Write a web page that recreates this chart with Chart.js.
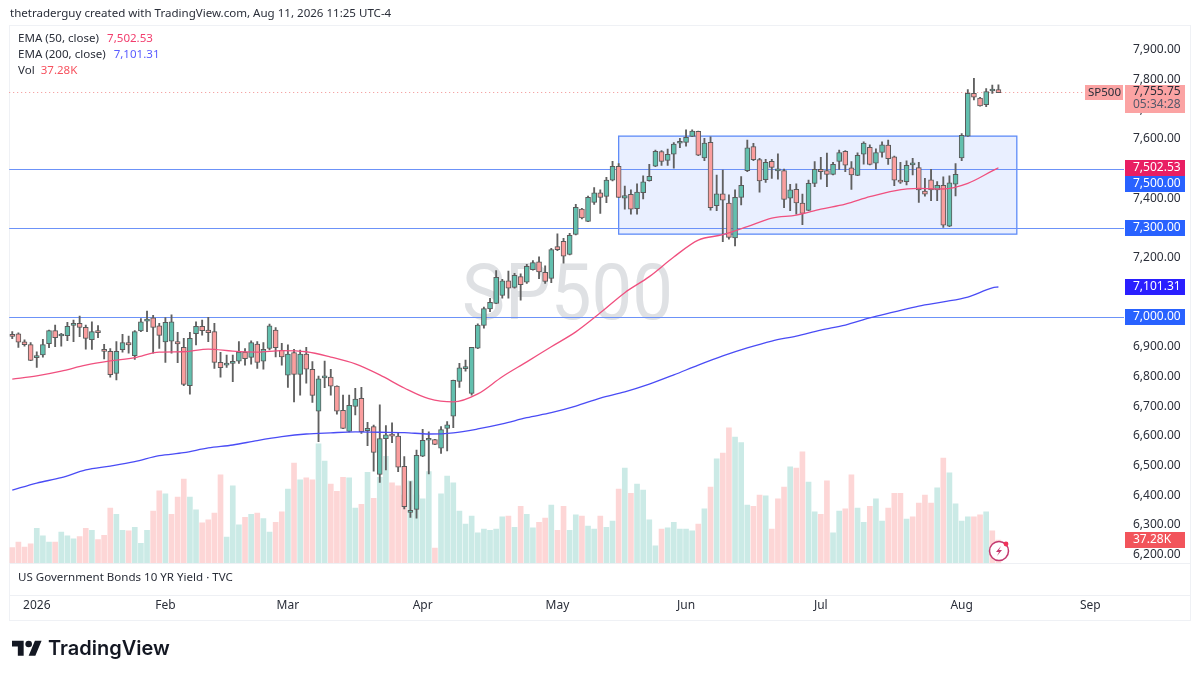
<!DOCTYPE html>
<html lang="en">
<head>
  <meta charset="UTF-8" />
  <title>SP500 | TradingView</title>
  <script src="https://cdn.jsdelivr.net/npm/chart.js@4"></script>
  <style>
    html, body { margin: 0; padding: 0; background: #fff; }
    body { width: 1200px; height: 675px; position: relative; overflow: hidden; font-family: "Noto Sans", sans-serif; color: #2a2e39; }
    #chart { position: absolute; left: 0; top: 0; z-index: 2; }
    .txt { position: absolute; white-space: nowrap; font-size: 11.55px; line-height: 16px; z-index: 3; }
    #frame { position: absolute; left: 9px; top: 25px; width: 1180px; height: 594px; border: 1px solid #eff1f5; z-index: 1; }
    .sep { position: absolute; left: 10px; width: 1180px; height: 1px; background: #eef0f4; z-index: 1; }
    #mark { position: absolute; left: 462px; top: 243px; font-family: Roboto, sans-serif; font-size: 78px; line-height: 100px; color: #dfe1e4; transform: scaleX(.93); transform-origin: left top; z-index: 1; }
    #brand { position: absolute; left: 48px; top: 634px; font-family: Inter, sans-serif; font-weight: 600; font-size: 20px; line-height: 28px; color: #131722; z-index: 3; }
    #logo { position: absolute; left: 12px; top: 637px; z-index: 3; }
    #bolt { position: absolute; left: 986px; top: 538px; z-index: 3; }
  </style>
</head>
<body>
  <div id="frame"></div>
  <div class="sep" style="top:563px"></div>
  <div class="sep" style="top:595px"></div>
  <div id="mark">SP500</div>
  <canvas id="chart" width="1200" height="675"></canvas>

  <div class="txt" style="left:10px;top:5px">thetraderguy created with TradingView.com, Aug 11, 2026 11:25 UTC-4</div>
  <div class="txt" style="left:18px;top:30px">EMA (50, close) &nbsp;<span style="color:#f23d6d;margin-left:2px">7,502.53</span></div>
  <div class="txt" style="left:18px;top:46px">EMA (200, close) &nbsp;<span style="color:#5a5cff;margin-left:2px">7,101.31</span></div>
  <div class="txt" style="left:18px;top:62px">Vol &nbsp;<span style="color:#f7525f">37.28K</span></div>
  <div class="txt" style="left:18px;top:569px">US Government Bonds 10 YR Yield · TVC</div>

  <svg id="bolt" width="26" height="26" viewBox="0 0 26 26">
    <circle cx="13" cy="13" r="9.5" fill="#fff" stroke="#c4396f" stroke-width="1.5"/>
    <path d="M15 8l-5 6h3l-2 4 5-6h-3z" fill="#c4396f"/>
    <circle cx="20" cy="6" r="2.4" fill="#f0325a"/>
  </svg>
  <svg id="logo" width="30" height="24" viewBox="0 0 36 28">
    <path d="M14 22H7V11H0V4h14v18ZM28 22h-8l7.5-18h8L28 22Z" fill="#131722"/>
    <circle cx="20" cy="8" r="4" fill="#131722"/>
  </svg>
  <div id="brand">TradingView</div>

  <script>
    const slotCount = 182;
    const monthNames = ["2026", "Feb", "Mar", "Apr", "May", "Jun", "Jul", "Aug", "Sep"];
    const monthBars = [4, 25, 45, 67, 89, 110, 132, 155, 176];
    const priceTicks = [7900, 7800, 7700, 7600, 7500, 7400, 7300, 7200, 7100, 7000, 6900, 6800, 6700, 6600, 6500, 6400, 6300, 6200];

    const opens = [
      6942,6943,6916,6907,6863,6872,6910,6954,6936,6937,
      6972,6979,6965,6924,6954,6891,6884,6810,6890,6914,
      6870,6953,6986,6997,6970,6916,6919,6917,6898,6769,
      6944,6969,6956,6951,6847,6838,6844,6851,6882,6864,
      6909,6851,6894,6956,6888,6804,6880,6807,6875,6824,
      6683,6795,6798,6767,6686,6615,6699,6726,6617,6631,
      6470,6590,6605,6599,6497,6342,6352,6531,6585,6587,
      6558,6625,6666,6783,6826,6743,6895,6972,7027,7046,
      7073,7122,7100,7136,7117,7159,7186,7150,7130,7237,
      7255,7211,7278,7363,7322,7386,7418,7406,7461,7507,
      7400,7413,7365,7419,7459,7508,7557,7527,7548,7585,
      7588,7608,7625,7536,7588,7375,7415,7384,7266,7403,
      7493,7574,7530,7462,7524,7492,7493,7400,7430,7384,
      7359,7450,7497,7493,7480,7524,7558,7502,7477,7548,
      7571,7518,7554,7579,7539,7457,7456,7512,7503,7424,
      7462,7428,7443,7306,7447,7536,7609,7753,7737,7715,
      7761,7766
    ];
    const highs = [
      6951,6947,6923,6914,6883,6925,6956,6973,6945,6982,
      6990,7003,6973,6984,6971,6908,6894,6917,6942,6936,
      6954,6995,7020,7006,6979,6998,7007,6948,6928,6948,
      6984,6990,6999,6979,6881,6872,6872,6917,6894,6920,
      6917,6914,6976,6964,6911,6906,6891,6889,6898,6850,
      6801,6852,6824,6768,6737,6737,6760,6763,6645,6636,
      6704,6634,6644,6608,6530,6446,6552,6622,6613,6588,
      6631,6648,6788,6844,6855,6898,6977,7033,7063,7156,
      7127,7155,7147,7145,7177,7190,7203,7172,7231,7280,
      7265,7282,7379,7366,7407,7436,7428,7470,7524,7517,
      7441,7428,7448,7475,7514,7562,7560,7565,7587,7602,
      7630,7630,7626,7602,7607,7478,7495,7411,7428,7473,
      7596,7585,7534,7531,7531,7549,7498,7447,7448,7414,
      7461,7523,7538,7552,7521,7562,7560,7523,7553,7590,
      7580,7566,7590,7596,7542,7521,7526,7534,7521,7467,
      7497,7456,7472,7475,7517,7618,7766,7804,7740,7769,
      7781,7782
    ];
    const lows = [
      6927,6898,6902,6853,6830,6865,6897,6900,6902,6920,
      6917,6934,6892,6891,6930,6859,6797,6788,6882,6878,
      6857,6951,6951,6878,6894,6847,6878,6846,6769,6740,
      6906,6939,6917,6827,6797,6830,6782,6844,6838,6841,
      6827,6824,6889,6866,6838,6763,6714,6737,6777,6712,
      6580,6762,6737,6673,6624,6613,6670,6608,6567,6481,
      6443,6485,6577,6479,6354,6325,6323,6530,6472,6570,
      6541,6549,6627,6763,6818,6737,6893,6962,7018,7045,
      7063,7063,7097,7057,7113,7158,7129,7113,7116,7223,
      7181,7209,7276,7330,7321,7379,7349,7385,7458,7402,
      7363,7346,7346,7398,7457,7506,7510,7510,7501,7570,
      7575,7607,7543,7526,7360,7358,7254,7262,7239,7377,
      7489,7526,7420,7453,7467,7464,7368,7358,7346,7311,
      7358,7439,7464,7439,7478,7497,7489,7430,7476,7515,
      7512,7498,7538,7514,7442,7450,7445,7478,7386,7407,
      7392,7392,7302,7304,7408,7526,7608,7731,7710,7708,
      7753,7755
    ];
    const closes = [
      6935,6915,6907,6854,6865,6907,6954,6930,6938,6969,
      6979,6965,6928,6951,6947,6884,6806,6884,6914,6906,
      6951,6984,6993,6965,6938,6982,6984,6909,6773,6928,
      6969,6954,6947,6847,6829,6840,6851,6882,6860,6914,
      6847,6891,6970,6897,6866,6875,6807,6875,6824,6736,
      6792,6797,6767,6683,6625,6703,6724,6614,6625,6544,
      6591,6603,6599,6494,6361,6349,6534,6585,6590,6571,
      6621,6637,6787,6829,6832,6898,6973,7028,7049,7134,
      7122,7097,7140,7109,7171,7183,7152,7120,7227,7227,
      7205,7275,7369,7334,7403,7418,7403,7461,7507,7403,
      7409,7363,7421,7455,7474,7558,7524,7548,7582,7587,
      7605,7626,7545,7586,7368,7415,7393,7268,7403,7443,
      7570,7530,7458,7521,7504,7494,7396,7428,7384,7349,
      7450,7497,7489,7480,7514,7554,7511,7478,7544,7586,
      7514,7554,7580,7533,7461,7454,7511,7514,7428,7414,
      7428,7443,7309,7452,7480,7612,7753,7740,7711,7759,
      7763,7755.75
    ];
    // thousands
    const volumes = [
      25,34,26,31,56,44,34,34,50,44,
      39,43,56,53,38,45,89,79,53,52,
      58,32,53,84,117,112,79,107,136,107,
      86,65,70,81,143,42,125,62,74,79,
      81,72,50,66,83,120,162,135,138,135,
      193,165,128,116,139,138,89,95,147,105,
      139,173,130,125,110,133,110,104,148,24,
      112,141,130,84,63,76,49,55,53,55,
      75,76,58,92,79,57,66,73,94,53,
      92,53,78,76,60,55,76,58,68,120,
      154,113,128,118,70,28,55,57,66,55,
      55,52,63,88,123,169,178,219,204,195,
      94,92,110,109,55,104,123,156,154,180,
      131,83,79,133,49,84,88,143,89,66,
      92,104,68,89,113,113,71,75,97,110,
      97,122,170,146,96,68,75,75,78,83,
      52,37.28
    ];
    // red volume bars by index, the rest are green
    const redVolBars = [0,1,2,3,7,11,12,14,15,16,19,23,24,26,27,28,31,32,33,34,38,40,43,44,46,48,49,52,53,54,57,59,62,63,64,69,81,83,86,87,89,90,93,96,99,101,106,112,114,116,117,121,122,124,125,126,128,129,132,133,136,137,140,143,144,145,147,148,149,150,152,157,158,160,161];

    // readings taken every few bars
    const emaBars = [0,4,8,12,16,20,24,28,32,36,40,44,48,52,56,60,64,68,72,76,80,84,88,92,96,100,104,108,112,116,120,124,128,132,136,140,144,148,152,156,160,161];
    const ema50 = [6791,6802,6818,6838,6852,6863,6882,6883,6892,6885,6882,6887,6883,6865,6842,6805,6761,6725,6714,6741,6799,6849,6900,6950,7014,7082,7136,7202,7259,7277,7304,7333,7343,7363,7380,7405,7425,7433,7431,7450,7492,7502.53];
    const ema200 = [6417,6441,6459,6485,6498,6513,6533,6543,6559,6569,6584,6597,6606,6610,6613,6612,6611,6606,6610,6623,6640,6661,6678,6700,6727,6748,6774,6805,6838,6869,6896,6919,6936,6956,6973,6997,7017,7037,7051,7067,7098,7101.31];

    const hLevels = [7500, 7300, 7000];
    const lastPrice = 7755.75;
    const rangeBox = { fromBar: 99, toBar: 164, top: 7609, bottom: 7279 };

    const categories = Array.from({ length: slotCount }, (_, i) => {
      const m = monthBars.indexOf(i);
      return m >= 0 ? monthNames[m] : "";
    });
    const sparse = vals => {
      const out = Array(opens.length).fill(null);
      emaBars.forEach((b, i) => out[b] = vals[i]);
      return out;
    };
    const fmt = v => v.toLocaleString("en-US", { minimumFractionDigits: 2, maximumFractionDigits: 2 });

    const UP = "#62bfae", DOWN = "#fa9e9e", EDGE = "#5a5a5a";
    const bodyColors = opens.map((o, i) => closes[i] >= o ? UP : DOWN);
    const volColors = volumes.map((_, i) => redVolBars.includes(i) ? "#fdd6d6" : "#cbeae6");

    // hlines, box and dotted last price under the candles
    const drawings = {
      id: "drawings",
      beforeDatasetsDraw(chart) {
        const { ctx, chartArea: a, scales: { x, y } } = chart;
        ctx.save();
        const bx0 = x.getPixelForValue(rangeBox.fromBar);
        const bx1 = x.getPixelForValue(rangeBox.toBar);
        const by0 = y.getPixelForValue(rangeBox.top), by1 = y.getPixelForValue(rangeBox.bottom);
        ctx.fillStyle = "rgba(41,98,255,.1)";
        ctx.fillRect(bx0, by0, bx1 - bx0, by1 - by0);
        ctx.strokeStyle = "#5f8cf8";
        ctx.lineWidth = 1.3;
        ctx.strokeRect(bx0, by0, bx1 - bx0, by1 - by0);
        ctx.strokeStyle = "#6c92f8";
        ctx.lineWidth = 1.2;
        hLevels.forEach(v => {
          const py = Math.round(y.getPixelForValue(v)) + .5;
          ctx.beginPath(); ctx.moveTo(a.left, py); ctx.lineTo(a.right, py); ctx.stroke();
        });
        ctx.strokeStyle = "#f29090";
        ctx.lineWidth = 1;
        ctx.setLineDash([1, 3]);
        const py = Math.round(y.getPixelForValue(lastPrice)) - .5;
        ctx.beginPath(); ctx.moveTo(a.left, py); ctx.lineTo(a.right, py); ctx.stroke();
        ctx.restore();
      }
    };

    // value tags on the price scale
    const priceTags = [
      { text: fmt(7502.53), axis: "y", value: 7502.53, bg: "#e91e63", fg: "#fff", shift: 0 },
      { text: fmt(7500), axis: "y", value: 7500, bg: "#2962ff", fg: "#fff", shift: 15 },
      { text: fmt(7300), axis: "y", value: 7300, bg: "#2962ff", fg: "#fff", shift: 0 },
      { text: fmt(7101.31), axis: "y", value: 7101.31, bg: "#2a1fff", fg: "#fff", shift: 0 },
      { text: fmt(7000), axis: "y", value: 7000, bg: "#2962ff", fg: "#fff", shift: 0 },
      { text: "37.28K", axis: "y2", value: 37.28, bg: "#f2545b", fg: "#fff", shift: 0 }
    ];
    const axisTags = {
      id: "axisTags",
      afterDraw(chart) {
        const { ctx, chartArea: a, scales } = chart;
        ctx.save();
        ctx.font = '12px "Noto Sans"';
        ctx.textBaseline = "middle";
        const L = a.right + 1, W = 60;
        priceTags.forEach(t => {
          const py = Math.round(scales[t.axis].getPixelForValue(t.value)) + t.shift;
          ctx.fillStyle = t.bg;
          ctx.fillRect(L, py - 8, W, 16);
          ctx.fillStyle = t.fg;
          ctx.textAlign = "left";
          ctx.fillText(t.text, L + 8, py);
        });
        // last price block
        const py = Math.round(scales.y.getPixelForValue(lastPrice));
        ctx.fillStyle = "#fba3a3";
        ctx.fillRect(L, py - 8, W, 28);
        ctx.fillRect(a.right - 39, py - 8, 38, 15);
        ctx.fillStyle = "#2a2e39";
        ctx.fillText(fmt(lastPrice), L + 8, py - 1);
        ctx.fillStyle = "#55596a";
        ctx.fillText("05:34:28", L + 8, py + 12);
        ctx.fillStyle = "#2a2e39";
        ctx.font = '11.5px "Noto Sans"';
        ctx.fillText("SP500", a.right - 36, py);
        ctx.restore();
      }
    };

    new Chart(document.getElementById("chart"), {
      type: "bar",
      data: {
        labels: categories,
        datasets: [
          { label: "EMA 50", type: "line", data: sparse(ema50), yAxisID: "y", borderColor: "#f0507f", borderWidth: 1.3, pointRadius: 0, spanGaps: true, cubicInterpolationMode: "monotone", order: 1 },
          { label: "EMA 200", type: "line", data: sparse(ema200), yAxisID: "y", borderColor: "#4a4cf5", borderWidth: 1.3, pointRadius: 0, spanGaps: true, cubicInterpolationMode: "monotone", order: 2 },
          { label: "Body", data: opens.map((o, i) => [o, closes[i]]), yAxisID: "y", grouped: false, barThickness: 5, minBarLength: 2, backgroundColor: bodyColors, borderColor: EDGE, borderWidth: 1, borderSkipped: false, order: 3 },
          { label: "Wick", data: lows.map((l, i) => [l, highs[i]]), yAxisID: "y", grouped: false, barThickness: 1.2, backgroundColor: "#606060", order: 4 },
          { label: "Vol", data: volumes, yAxisID: "y2", grouped: false, barThickness: 5, backgroundColor: volColors, order: 5 }
        ]
      },
      plugins: [drawings, axisTags],
      options: {
        responsive: false,
        animation: false,
        events: [],
        layout: { padding: { left: 9.2, right: 10, top: 25, bottom: 55 } },
        plugins: { legend: { display: false }, tooltip: { enabled: false } },
        scales: {
          x: {
            type: "category",
            grid: { display: false, drawTicks: false },
            border: { display: false },
            afterFit: s => { s.height = 57; s.paddingLeft = 0; s.paddingRight = 0; },
            ticks: { autoSkip: false, maxRotation: 0, padding: 35, color: "#2a2e39", font: { family: "Noto Sans", size: 12 } }
          },
          y: {
            position: "right",
            min: 6171.7,
            max: 7983.2,
            grid: { display: false, drawTicks: false },
            border: { display: false },
            afterFit: s => { s.width = 66; },
            afterBuildTicks: s => { s.ticks = priceTicks.map(v => ({ value: v })); },
            ticks: { padding: 9, color: "#2a2e39", font: { family: "Noto Sans", size: 12 }, callback: v => fmt(v) }
          },
          y2: { display: false, min: 0, max: 872 }
        }
      }
    });
  </script>
</body>
</html>
